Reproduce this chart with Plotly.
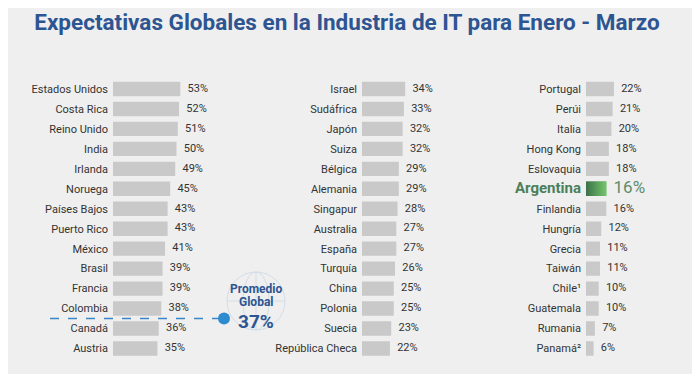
import plotly.graph_objects as go

# ---- data ----
col1_countries = ["Estados Unidos", "Costa Rica", "Reino Unido", "India", "Irlanda", "Noruega",
                  "Países Bajos", "Puerto Rico", "México", "Brasil", "Francia", "Colombia",
                  "Canadá", "Austria"]
col1_values = [53, 52, 51, 50, 49, 45, 43, 43, 41, 39, 39, 38, 36, 35]

col2_countries = ["Israel", "Sudáfrica", "Japón", "Suiza", "Bélgica", "Alemania", "Singapur",
                  "Australia", "España", "Turquía", "China", "Polonia", "Suecia", "República Checa"]
col2_values = [34, 33, 32, 32, 29, 29, 28, 27, 27, 26, 25, 25, 23, 22]

col3_countries = ["Portugal", "Perúi", "Italia", "Hong Kong", "Eslovaquia", "Argentina", "Finlandia",
                  "Hungría", "Grecia", "Taiwán", "Chile¹", "Guatemala", "Rumania", "Panamá²"]
col3_values = [22, 21, 20, 18, 18, 16, 16, 12, 11, 11, 10, 10, 7, 6]

highlight = "Argentina"
promedio_global = 37
title_text = "Expectativas Globales en la Industria de IT para Enero - Marzo"

# ---- style ----
SW, SH = 700, 374          # screen size
OFF = 8                    # page body margin
W, H = SW - OFF, SH - OFF  # figure size
BG = "#efefef"
BAR = "#c9c9c9"
TXT = "#333333"
BLUE = "#2d5592"
GREEN_TXT = "#4b7f5a"
PX_PER_UNIT = 1.27
FONT = "Roboto, sans-serif"


def px(sx):
    return (sx - OFF) / W


def py(sy):
    return 1 - (sy - OFF) / H


# column geometry (screen pixels)
col_x0 = [113, 362, 586]
col_w = 100
row0_y = 89
row_step = 19.96
n_rows = 14

y_top = row0_y - 0.5 * row_step
y_bot = row0_y + (n_rows - 0.5) * row_step
ydom = [py(y_bot), py(y_top)]

fig = go.Figure()
cols = [(col1_countries, col1_values), (col2_countries, col2_values), (col3_countries, col3_values)]

for ci, (names, vals) in enumerate(cols):
    sfx = "" if ci == 0 else str(ci + 1)
    idx = list(range(len(names)))
    colors = ["#5aa35e" if n == highlight else BAR for n in names]
    tsize = [17 if n == highlight else 11 for n in names]
    tcol = ["#5d8c6c" if n == highlight else TXT for n in names]
    fig.add_trace(go.Bar(
        x=vals, y=idx, orientation="h",
        marker=dict(color=colors, line=dict(width=0)),
        width=0.72,
        xaxis="x" + sfx, yaxis="y" + sfx,
        hoverinfo="skip",
    ))
    # value labels
    fig.add_trace(go.Scatter(
        x=vals, y=idx, mode="markers+text",
        marker=dict(size=10, color="rgba(0,0,0,0)"),
        text=[f"{v}%" for v in vals],
        textposition="middle right",
        textfont=dict(size=tsize, color=tcol, family=FONT),
        cliponaxis=False,
        xaxis="x" + sfx, yaxis="y" + sfx, hoverinfo="skip",
    ))
    # gradient overlay for the highlighted bar
    for i, n in enumerate(names):
        if n == highlight:
            v = vals[i]
            fig.add_trace(go.Scatter(
                x=[0, v, v, 0, 0], y=[i - 0.36, i - 0.36, i + 0.36, i + 0.36, i - 0.36],
                mode="lines", line=dict(width=0), fill="toself",
                fillgradient=dict(type="horizontal",
                                  colorscale=[[0, "#3b7149"], [1, "#74c66c"]]),
                xaxis="x" + sfx, yaxis="y" + sfx, hoverinfo="skip", showlegend=False,
            ))
    ticktext = [
        f"<span style='font-size:15px;fill:{GREEN_TXT}'><b>{n}</b></span>" if n == highlight else n
        for n in names
    ]
    x0 = col_x0[ci]
    fig.update_layout(**{
        "xaxis" + sfx: dict(domain=[px(x0), px(x0 + col_w)],
                            range=[0, col_w / PX_PER_UNIT],
                            visible=False, fixedrange=True, automargin=False),
        "yaxis" + sfx: dict(domain=ydom, range=[n_rows - 0.5, -0.5],
                            tickvals=idx, ticktext=ticktext,
                            showgrid=False, zeroline=False, showline=False,
                            ticks="", ticklabelstandoff=4, automargin=False,
                            tickfont=dict(size=11, color=TXT, family=FONT),
                            anchor="x" + sfx, fixedrange=True),
    })

# promedio global marker (between rows of the first column where 37 falls)
pos = sum(1 for v in col1_values if v > promedio_global) - 0.5
fig.add_shape(type="line", xref="paper", yref="y", x0=px(50), x1=px(222), y0=pos, y1=pos,
              line=dict(color="#3a86c8", width=1.6, dash="dash"))
# globe outline
gx, gy, gr = 256, 301, 29
gl = dict(color="#d3dde8", width=1)
fig.add_shape(type="circle", xref="paper", yref="paper",
              x0=px(gx - gr), x1=px(gx + gr), y0=py(gy + gr), y1=py(gy - gr), line=gl)
fig.add_shape(type="circle", xref="paper", yref="paper",
              x0=px(gx - 13), x1=px(gx + 13), y0=py(gy + gr), y1=py(gy - gr), line=gl)
fig.add_shape(type="line", xref="paper", yref="paper",
              x0=px(gx - gr), x1=px(gx + gr), y0=py(gy), y1=py(gy), line=gl)
fig.add_shape(type="line", xref="paper", yref="paper",
              x0=px(gx), x1=px(gx), y0=py(gy + gr), y1=py(gy - gr), line=gl)
fig.add_shape(type="circle", xref="paper", yref="y", xsizemode="pixel", ysizemode="pixel",
              xanchor=px(224), yanchor=pos, x0=-6, x1=6, y0=-6, y1=6,
              fillcolor="#2f8bd0", line=dict(width=0))

fig.add_annotation(xref="paper", yref="paper", x=px(gx), y=py(289),
                   text="<b>Promedio</b>", showarrow=False,
                   font=dict(size=12, color=BLUE, family=FONT), yanchor="middle")
fig.add_annotation(xref="paper", yref="paper", x=px(gx), y=py(302),
                   text="<b>Global</b>", showarrow=False,
                   font=dict(size=12, color=BLUE, family=FONT), yanchor="middle")
fig.add_annotation(xref="paper", yref="paper", x=px(gx), y=py(321),
                   text=f"<b>{promedio_global}%</b>", showarrow=False,
                   font=dict(size=19, color=BLUE, family=FONT), yanchor="middle")

fig.update_layout(
    width=W, height=H,
    margin=dict(l=0, r=0, t=0, b=0),
    paper_bgcolor=BG, plot_bgcolor=BG,
    showlegend=False,
    title=dict(text=f"<b>{title_text}</b>", x=px(347), xanchor="center", y=py(22), yanchor="middle",
               font=dict(size=22.5, color=BLUE, family="Roboto, sans-serif")),
    bargap=0.3,
)

fig.write_html("out.html")
